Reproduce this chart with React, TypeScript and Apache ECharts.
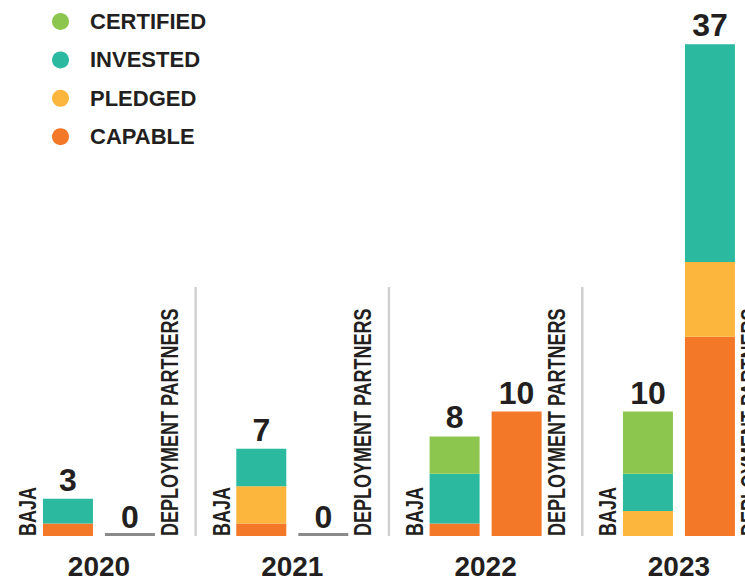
import React, { useEffect, useRef } from "react";
import * as echarts from "echarts";

const years = ["2020", "2021", "2022", "2023"];
const legendNames = ["CERTIFIED", "INVESTED", "PLEDGED", "CAPABLE"];
const groupLabels = ["BAJA", "DEPLOYMENT PARTNERS"];

// BAJA stack (bottom to top)
const bajaCapable = [1, 1, 1, 0];
const bajaPledged = [0, 3, 0, 2];
const bajaInvested = [2, 3, 4, 3];
const bajaCertified = [0, 0, 3, 5];
const bajaTotals = [3, 7, 8, 10];

// Deployment partners stack (bottom to top)
const dpNone = [0, 0, "-", "-"];
const dpCapable = [0, 0, 10, 16];
const dpPledged = [0, 0, 0, 6];
const dpInvested = [0, 0, 0, 17.5];
const dpCertified = [0, 0, 0, 0];
const dpTotals = [0, 0, 10, 37];

const COLORS: Record<string, string> = {
  CERTIFIED: "#8DC64F",
  INVESTED: "#2BB9A0",
  PLEDGED: "#FCB63E",
  CAPABLE: "#F37828",
};
const TEXT = "#231F20";
const REG = "'Liberation Sans', Arial, Helvetica, sans-serif";

const BAR_W = 50;
const BAR_GAP = 12;

function bar(name: string, stack: string, data: any[], color: string, extra: any = {}) {
  return {
    type: "bar",
    name,
    stack,
    data,
    barWidth: BAR_W,
    barGap: (BAR_GAP / BAR_W) * 100 + "%",
    itemStyle: { color },
    emphasis: { disabled: true },
    silent: true,
    ...extra,
  };
}

function totalSeries(stack: string, totals: number[]) {
  return bar(stack + "-total", stack, totals.map(() => 0), "rgba(0,0,0,0)", {
    label: {
      show: true,
      position: "top",
      distance: 3,
      formatter: (p: any) => String(totals[p.dataIndex]),
      fontSize: 32,
      fontWeight: "bold",
      fontFamily: REG,
      color: TEXT,
    },
  });
}

export default function App() {
  const ref = useRef<HTMLDivElement>(null);
  useEffect(() => {
    if (!ref.current) return;
    const chart = echarts.init(ref.current, undefined, { renderer: "svg" });
    const option: any = {
      animation: false,
      legend: {
        data: legendNames,
        orient: "vertical",
        left: 52,
        top: 10.5,
        padding: 0,
        icon: "circle",
        itemWidth: 17,
        itemHeight: 17,
        itemGap: 16.4,
        selectedMode: false,
        textStyle: {
          fontFamily: REG,
          fontWeight: "bold",
          fontSize: 22,
          color: TEXT,
          padding: [0, 0, 0, 16],
        },
      },
      grid: { left: 2.3, right: 0.4, top: 38, bottom: 46 },
      xAxis: {
        type: "category",
        data: years,
        axisLine: { show: false },
        axisTick: { show: false },
        axisLabel: {
          margin: 16,
          fontFamily: REG,
          fontWeight: "bold",
          fontSize: 28,
          color: TEXT,
        },
      },
      yAxis: { type: "value", min: 0, max: 40, show: false },
      series: [
        bar("CAPABLE", "baja", bajaCapable, COLORS.CAPABLE),
        bar("PLEDGED", "baja", bajaPledged, COLORS.PLEDGED),
        bar("INVESTED", "baja", bajaInvested, COLORS.INVESTED),
        bar("CERTIFIED", "baja", bajaCertified, COLORS.CERTIFIED),
        totalSeries("baja", bajaTotals),
        bar("NONE", "dp", dpNone, "#8A8A8A", { barMinHeight: 3 }),
        bar("CAPABLE", "dp", dpCapable, COLORS.CAPABLE),
        bar("PLEDGED", "dp", dpPledged, COLORS.PLEDGED),
        bar("INVESTED", "dp", dpInvested, COLORS.INVESTED),
        bar("CERTIFIED", "dp", dpCertified, COLORS.CERTIFIED),
        totalSeries("dp", dpTotals),
        {
          type: "custom",
          name: "annotations",
          silent: true,
          z: 10,
          data: years.map((_, i) => [i, 0]),
          encode: { x: 0, y: 1 },
          renderItem: (params: any, api: any) => {
            const idx = api.value(0);
            const base = api.coord([idx, 0]);
            const band = api.size([1, 0])[0];
            const sepTop = api.coord([idx, 20])[1];
            const cx = base[0];
            const by = base[1];
            const half = BAR_W + BAR_GAP / 2;
            const textStyle = {
              fill: TEXT,
              fontFamily: REG,
              fontWeight: "bold",
              fontSize: 24,
              align: "left",
              verticalAlign: "middle",
            };
            const children: any[] = [
              {
                type: "text",
                x: cx - half - 15,
                y: by,
                rotation: Math.PI / 2,
                scaleX: 0.75,
                style: { ...textStyle, text: groupLabels[0] },
              },
              {
                type: "text",
                x: cx + half + 14.5,
                y: by,
                rotation: Math.PI / 2,
                scaleX: 0.75,
                style: { ...textStyle, text: groupLabels[1] },
              },
            ];
            if (idx > 0) {
              const sx = cx - band / 2;
              children.push({
                type: "line",
                shape: { x1: sx, y1: by, x2: sx, y2: sepTop },
                style: { stroke: "#D0D0D0", lineWidth: 2.5 },
              });
            }
            return { type: "group", children };
          },
        },
      ],
    };
    chart.setOption(option);
    return () => chart.dispose();
  }, []);
  return (
    <div
      style={{
        position: "absolute",
        left: 0,
        top: 0,
        width: 745,
        height: 582,
        overflow: "hidden",
        background: "#fff",
      }}
    >
      <div ref={ref} style={{ width: 776, height: 582 }} />
    </div>
  );
}
